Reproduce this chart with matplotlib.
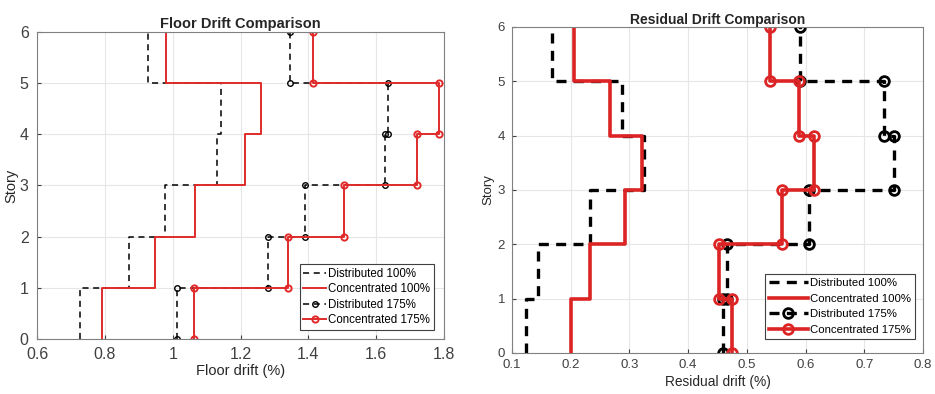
import numpy as np
import matplotlib.pyplot as plt

plt.rcParams['font.family'] = ['Liberation Sans', 'DejaVu Sans']

# story drift values (story 1..6)
stories = [0, 1, 2, 3, 4, 5, 6]

floor_dist_100 = [0.726, 0.871, 0.978, 1.131, 1.143, 0.928]
floor_conc_100 = [0.792, 0.948, 1.065, 1.212, 1.260, 0.981]
floor_dist_175 = [1.013, 1.281, 1.389, 1.626, 1.635, 1.345]
floor_conc_175 = [1.063, 1.340, 1.505, 1.720, 1.785, 1.415]

res_dist_100 = [0.124, 0.145, 0.232, 0.324, 0.287, 0.168]
res_conc_100 = [0.200, 0.233, 0.292, 0.322, 0.267, 0.206]
res_dist_175 = [0.459, 0.466, 0.605, 0.751, 0.733, 0.591]
res_conc_175 = [0.474, 0.453, 0.559, 0.614, 0.588, 0.539]

labels = ['Distributed 100%', 'Concentrated 100%', 'Distributed 175%', 'Concentrated 175%']


def stair(vals):
    # each story drift drawn as a vertical segment between floors
    x = np.repeat(vals, 2)
    y = np.repeat(stories, 2)[1:-1]
    return x, y


red = '#e02a2a'
txt = '#262626'

fig = plt.figure(figsize=(9.35, 3.94), dpi=100)

# ---- left: floor drift ----
ax1 = fig.add_axes([0.0396, 0.1396, 0.4353, 0.7792])
x, y = stair(floor_dist_100)
ax1.plot(x, y, '--', color='k', lw=1.1, dashes=(4, 3), label=labels[0])
x, y = stair(floor_conc_100)
ax1.plot(x, y, '-', color=red, lw=1.4, label=labels[1])
x, y = stair(floor_dist_175)
ax1.plot(x, y, '--', color='k', lw=1.1, dashes=(4, 3), marker='o', ms=4,
         mfc='none', mew=1.0, label=labels[2])
x, y = stair(floor_conc_175)
ax1.plot(x, y, '-', color=red, lw=1.4, marker='o', ms=4.5, mfc='none',
         mew=1.4, label=labels[3])

ax1.set_xlim(0.6, 1.8)
ax1.set_ylim(0, 6)
ax1.set_xticks(np.arange(0.6, 1.81, 0.2))
ax1.set_xticklabels(['0.6', '0.8', '1', '1.2', '1.4', '1.6', '1.8'])
ax1.set_yticks(range(7))
ax1.grid(True, color='#e6e6e6', lw=0.8)
ax1.set_axisbelow(True)
ax1.tick_params(labelsize=11.5, colors='#404040', direction='in', length=3)
ax1.tick_params(axis='x', pad=6)
ax1.tick_params(axis='y', pad=6)
for s in ax1.spines.values():
    s.set_color('#808080')
ax1.set_title('Floor Drift Comparison', fontsize=10.5, fontweight='bold', color=txt, pad=3)
ax1.set_xlabel('Floor drift (%)', fontsize=10.5, color=txt, labelpad=1)
ax1.set_ylabel('Story', fontsize=10.5, color=txt, labelpad=1)
leg = ax1.legend(loc='lower right', fontsize=8.3, handlelength=2.0, handletextpad=0.2,
                 borderpad=0.3, labelspacing=0.3, fancybox=False, framealpha=1,
                 edgecolor='#404040', bbox_to_anchor=(0.975, 0.03), borderaxespad=0)
leg.get_frame().set_linewidth(0.8)

# ---- right: residual drift ----
ax2 = fig.add_axes([0.5476, 0.1041, 0.4396, 0.8274])
x, y = stair(res_dist_100)
ax2.plot(x, y, '--', color='k', lw=2.4, dashes=(3, 2.2), label=labels[0])
x, y = stair(res_conc_100)
ax2.plot(x, y, '-', color='#dc2424', lw=2.6, label=labels[1])
x, y = stair(res_dist_175)
ax2.plot(x, y, '--', color='k', lw=2.4, dashes=(3, 2.2), marker='o', ms=7,
         mfc='none', mew=2.0, label=labels[2])
x, y = stair(res_conc_175)
ax2.plot(x, y, '-', color='#dc2424', lw=2.6, marker='o', ms=7, mfc='none',
         mew=2.0, label=labels[3])

ax2.set_xlim(0.1, 0.8)
ax2.set_ylim(0, 6)
ax2.set_xticks(np.arange(0.1, 0.81, 0.1))
ax2.set_xticklabels(['0.1', '0.2', '0.3', '0.4', '0.5', '0.6', '0.7', '0.8'])
ax2.set_yticks(range(7))
ax2.grid(True, color='#e6e6e6', lw=0.8)
ax2.set_axisbelow(True)
ax2.tick_params(labelsize=9.5, colors='#404040', direction='in', length=3)
ax2.tick_params(axis='x', pad=4)
ax2.tick_params(axis='y', pad=5)
for s in ax2.spines.values():
    s.set_color('#808080')
ax2.set_title('Residual Drift Comparison', fontsize=10, fontweight='bold', color=txt, pad=2)
ax2.set_xlabel('Residual drift (%)', fontsize=9.9, color=txt, labelpad=3)
ax2.set_ylabel('Story', fontsize=9.5, color=txt, labelpad=2)
leg = ax2.legend(loc='lower right', fontsize=8.2, handlelength=3.4, handletextpad=0.2,
                 borderpad=0.35, labelspacing=0.5, fancybox=False, framealpha=1,
                 edgecolor='#404040', bbox_to_anchor=(0.98, 0.043), borderaxespad=0)
leg.get_frame().set_linewidth(0.8)

fig.savefig('out.png', dpi=100)
